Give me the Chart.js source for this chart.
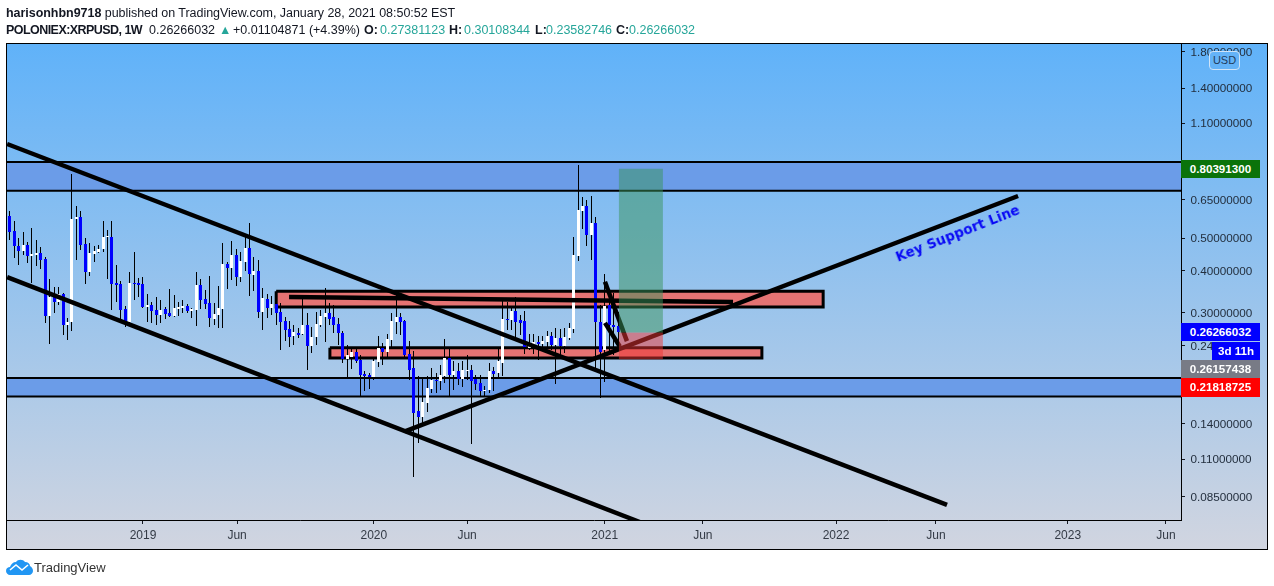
<!DOCTYPE html>
<html><head><meta charset="utf-8">
<script src="https://cdn.jsdelivr.net/npm/chart.js@4"></script>
<style>
html,body{margin:0;padding:0;background:#fff;width:1274px;height:586px;overflow:hidden}
body{position:relative;font-family:"Liberation Sans",sans-serif;color:#131722}
canvas{position:absolute;left:0;top:0}
.h{position:absolute;white-space:nowrap;font-size:12.5px;line-height:16px}
.b{font-weight:bold}.g{color:#26a69a}
#frame{position:absolute;left:6px;top:43px;width:1260px;height:505px;border:1px solid #000;pointer-events:none}
.tag{position:absolute;left:1181px;width:79px;height:18px;line-height:18px;text-align:center;color:#fff;font-weight:bold;font-size:11.6px}
#usd{position:absolute;left:1209px;top:51px;width:29px;height:17px;line-height:17px;border:1px solid #cfe3f7;border-radius:4px;background:#64b3f8;color:#1f3c5c;text-align:center;font-size:11px}
#ksl{position:absolute;left:885px;top:225px;width:145px;text-align:center;font:bold 13.5px "DejaVu Sans",sans-serif;color:#0808f5;transform:rotate(-21.5deg);white-space:nowrap;letter-spacing:.1px}
</style></head><body>
<canvas id="c" width="1274" height="586"></canvas>
<div id="frame"></div>
<div class="h" style="left:6px;top:5px;letter-spacing:-.04px"><span class="b">harisonhbn9718</span> published on TradingView.com, January 28, 2021 08:50:52 EST</div>
<div class="h b" style="left:6px;top:22px;letter-spacing:-.55px">POLONIEX:XRPUSD, 1W</div>
<div class="h" style="left:149px;top:22px">0.26266032</div>
<div class="h g" style="left:219px;top:22px">&#9650;</div>
<div class="h" style="left:233px;top:22px">+0.01104871 (+4.39%)</div>
<div class="h b" style="left:364px;top:22px">O:</div><div class="h g" style="left:380px;top:22px">0.27381123</div>
<div class="h b" style="left:449px;top:22px">H:</div><div class="h g" style="left:464px;top:22px">0.30108344</div>
<div class="h b" style="left:535px;top:22px">L:</div><div class="h g" style="left:546px;top:22px">0.23582746</div>
<div class="h b" style="left:616px;top:22px">C:</div><div class="h g" style="left:629px;top:22px">0.26266032</div>
<div id="usd">USD</div>
<div class="tag" style="top:160px;background:#0a730a">0.80391300</div>
<div class="tag" style="top:323px;background:#0000ff">0.26266032</div>
<div class="tag" style="top:342px;left:1212px;width:48px;background:#0000ff">3d 11h</div>
<div class="tag" style="top:360px;background:#787b86">0.26157438</div>
<div class="tag" style="top:378px;height:19px;background:#ff0000">0.21818725</div>
<div id="ksl">Key Support Line</div>
<svg style="position:absolute;left:6px;top:559px" width="27" height="16" viewBox="0 0 27 16"><path d="M0 12 C0 9 2 8 4 8 C5 5 7 3 10 3 C12 0 17 0 19 3 C22 3 24 5 24 7 C26 8 27 10 27 12 C27 14 25 16 23 16 L4 16 C2 16 0 14 0 12Z" fill="#2196f3"/><path d="M4 11 L10 6 L16 11 L22 6" fill="none" stroke="#fff" stroke-width="1.6"/></svg>
<div class="h" style="left:34px;top:560px;font-size:13px;color:#333">TradingView</div>
<script>
const firstWeek = -30;
const opens = [.583,.525,.474,.458,.476,.443,.446,.452,.434,.294,.341,.322,.341,.275,.281,.572,.578,.481,.397,.449,.456,.464,.503,.505,.368,.365,.308,.281,.368,.368,.365,.312,.316,.306,.295,.308,.300,.293,.308,.310,.314,.304,.306,.363,.330,.321,.287,.295,.308,.419,.408,.446,.383,.425,.467,.389,.399,.302,.330,.310,.319,.302,.284,.269,.256,.262,.259,.276,.239,.254,.276,.292,.300,.291,.278,.262,.219,.222,.230,.217,.197,.196,.193,.214,.236,.230,.249,.282,.291,.284,.226,.205,.153,.147,.162,.178,.189,.188,.195,.220,.196,.201,.191,.202,.203,.190,.185,.175,.177,.201,.198,.213,.288,.286,.304,.286,.284,.236,.241,.246,.242,.246,.256,.241,.253,.239,.253,.269,.443,.603,.624,.510,.555,.282,.233,.316,.276,.2738];
const highs = [.603,.562,.500,.521,.486,.535,.494,.470,.441,.378,.357,.357,.343,.289,.775,.622,.603,.500,.485,.475,.477,.563,.529,.563,.416,.373,.314,.398,.455,.380,.383,.341,.323,.334,.328,.312,.353,.340,.323,.328,.319,.310,.396,.379,.351,.386,.320,.361,.484,.425,.491,.466,.455,.511,.555,.440,.431,.356,.341,.337,.343,.320,.292,.284,.276,.271,.332,.299,.272,.301,.306,.355,.321,.316,.290,.265,.241,.234,.234,.224,.201,.199,.219,.256,.244,.260,.299,.339,.299,.286,.248,.231,.194,.191,.194,.205,.199,.210,.250,.235,.215,.212,.215,.224,.210,.196,.196,.182,.212,.207,.234,.326,.323,.309,.334,.295,.304,.260,.260,.255,.256,.264,.263,.271,.269,.270,.280,.504,.825,.665,.652,.667,.578,.316,.391,.343,.344,.3011];
const lows = [.494,.438,.415,.446,.423,.369,.412,.406,.279,.243,.300,.316,.258,.249,.264,.431,.461,.365,.386,.426,.453,.456,.379,.306,.322,.282,.273,.276,.328,.335,.309,.281,.279,.276,.280,.288,.291,.292,.294,.300,.300,.290,.274,.308,.308,.273,.276,.270,.270,.353,.376,.361,.371,.399,.337,.349,.290,.267,.290,.295,.276,.233,.248,.238,.241,.252,.257,.202,.228,.241,.273,.246,.276,.262,.241,.213,.193,.204,.212,.170,.176,.178,.189,.207,.210,.219,.238,.260,.258,.221,.189,.0973,.123,.138,.152,.173,.173,.177,.185,.170,.177,.183,.181,.189,.122,.177,.170,.169,.173,.175,.193,.194,.267,.267,.252,.258,.226,.233,.226,.217,.236,.236,.233,.184,.224,.228,.249,.261,.428,.533,.474,.431,.203,.167,.187,.227,.224,.2358];
const closes = [.523,.474,.458,.476,.443,.449,.452,.431,.294,.335,.322,.341,.275,.282,.571,.577,.477,.397,.452,.457,.464,.505,.508,.365,.363,.306,.282,.368,.365,.363,.312,.316,.304,.295,.306,.298,.293,.310,.312,.314,.304,.308,.363,.328,.319,.289,.298,.310,.419,.408,.446,.383,.428,.467,.391,.399,.302,.332,.310,.319,.300,.282,.267,.254,.263,.258,.276,.239,.254,.278,.293,.300,.288,.276,.261,.219,.224,.230,.215,.196,.195,.193,.215,.236,.230,.251,.284,.291,.282,.224,.203,.151,.147,.163,.179,.189,.188,.196,.220,.196,.201,.190,.203,.203,.188,.184,.176,.177,.201,.197,.215,.288,.286,.304,.282,.280,.238,.241,.246,.242,.248,.256,.241,.253,.239,.254,.270,.446,.607,.624,.512,.555,.282,.230,.314,.276,.272,.2627];
const tickWeeks = [0,21.2,52,73,104,126.1,156.1,178.6,208.3,230.4];
const tickNames = ['2019','Jun','2020','Jun','2021','Jun','2022','Jun','2023','Jun'];
const priceTicks = [1.8,1.4,1.1,0.65,0.5,0.4,0.3,0.24,0.14,0.11,0.085];
const bandUpper = {x0:-40,x1:245,top:.843,bottom:.692};
const bandLower = {x0:-40,x1:245,top:.192,bottom:.169};
const zoneUpper = {x0:30,x1:153.2,top:.348,bottom:.312};
const zoneLower = {x0:42.1,x1:139.4,top:.236,bottom:.220};
const targetBox = {x0:107.2,x1:117.1,top:.805,bottom:.262};
const stopBox = {x0:107.2,x1:117.1,top:.262,bottom:.218};
const channelUpper = [[-30.6,.954],[181.1,.0804]];
const channelLower = [[-30.6,.383],[111.9,.0715]];
const supportLine = [[59,.133],[197.1,.668]];
const flatLine = [[32.9,.334],[132.9,.323]];
const wedgeA = [[104.05,.371],[109,.247]];
const wedgeB = [[104.05,.280],[107.4,.238]];

const weeks = opens.map((_,i)=>firstWeek+i);
const box = r => [[r.x0,r.top],[r.x1,r.top],[r.x1,r.bottom],[r.x0,r.bottom],[r.x0,r.top]].map(p=>({x:p[0],y:p[1]}));
const zone = (r,fill,bw,order,bc) => ({type:'line',data:box(r),fill:'shape',backgroundColor:fill,borderColor:bc||'#000',borderWidth:bw,pointRadius:0,tension:0,order,borderJoinStyle:'miter'});
const trend = (pts) => ({type:'line',data:pts.map(p=>({x:p[0],y:p[1]})),borderColor:'#000',borderWidth:4.5,pointRadius:0,tension:0,fill:false,order:2,borderCapStyle:'butt'});

const panel = {id:'panel',beforeDraw(ch){
  const c=ch.ctx,g=c.createLinearGradient(0,44,0,549);
  g.addColorStop(0,'#60b2f9');g.addColorStop(1,'#d1d5e0');
  c.save();c.fillStyle=g;c.fillRect(7,44,1260,505);c.restore();
}};
/* keep candles on whole device pixels so wicks stay crisp, like the reference */
const crisp = {id:'crisp',afterDatasetsUpdate(ch){
  ch.data.datasets.forEach((d,i)=>{
    if(d.snap) ch.getDatasetMeta(i).data.forEach(el=>{
      el.x=Math.floor(el.x)+.5; el.width=d.snap;
      el.y=Math.round(el.y); el.base=Math.round(el.base);
      if(el.y===el.base) el.base=el.y+1;
    });
  });
}};
new Chart(document.getElementById('c'),{
  type:'bar',
  data:{datasets:[
    zone(bandUpper,'#6b9ce8',2,6),
    zone(bandLower,'#6b9ce8',2,6),
    zone(zoneUpper,'#e57373',3,5),
    zone(zoneLower,'#e57373',3,5),
    {label:'wicks',data:weeks.map((w,i)=>({x:w,y:[lows[i],highs[i]]})),backgroundColor:'#000',maxBarThickness:1,snap:1,grouped:false,order:4},
    {label:'bodies',data:weeks.map((w,i)=>({x:w,y:[opens[i],closes[i]]})),backgroundColor:opens.map((o,i)=>closes[i]>=o?'#ffffff':'#0000ff'),maxBarThickness:3,snap:3,grouped:false,order:3},
    trend(channelUpper),trend(channelLower),trend(supportLine),trend(flatLine),trend(wedgeA),trend(wedgeB),
    zone(targetBox,'rgba(57,148,92,.5)',0,1,'rgba(0,0,0,0)'),
    zone(stopBox,'rgba(240,53,52,.5)',0,1,'rgba(0,0,0,0)')
  ]},
  options:{
    responsive:false,animation:false,devicePixelRatio:1,
    layout:{padding:{left:7,top:44,right:7,bottom:37}},
    plugins:{legend:{display:false},tooltip:{enabled:false},title:{display:false}},
    scales:{
      x:{type:'linear',offset:false,min:-30.63,max:233.8,
        afterFit(s){s.height=29},
        afterBuildTicks(s){s.ticks=tickWeeks.map(v=>({value:v}))},
        border:{display:true,color:'#000',width:1},
        grid:{display:true,offset:false,drawOnChartArea:false,drawTicks:true,tickLength:4,color:'#131722'},
        ticks:{autoSkip:false,maxRotation:0,padding:4,color:'#333a45',font:{family:'"Liberation Sans",sans-serif',size:12},
          callback(v){const i=tickWeeks.indexOf(v);return i<0?'':tickNames[i]}}
      },
      y:{type:'logarithmic',position:'right',min:.0725,max:1.893,
        afterFit(s){s.width=86},
        afterBuildTicks(s){s.ticks=priceTicks.map(v=>({value:v}))},
        border:{display:true,color:'#000',width:1},
        grid:{display:true,drawOnChartArea:false,drawTicks:true,tickLength:4,color:'#131722'},
        ticks:{autoSkip:false,padding:5.5,labelOffset:1,color:'#232f3e',font:{family:'"Liberation Sans",sans-serif',size:11.7},
          callback(v){return Number(v).toFixed(8)}}
      }
    }
  },
  plugins:[panel,crisp]
});
</script>
</body></html>
